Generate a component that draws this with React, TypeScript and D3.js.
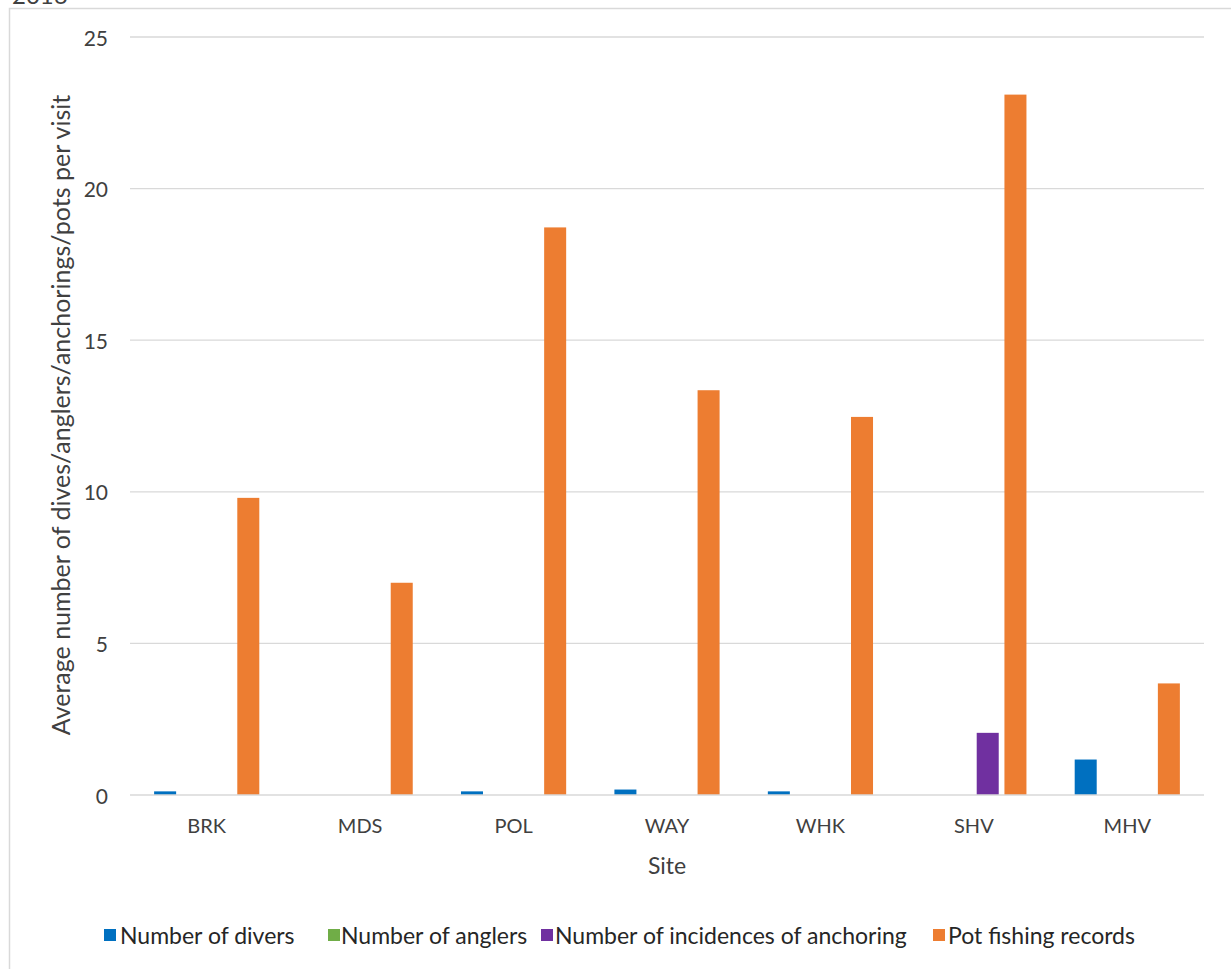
import React from "react";
import * as d3 from "d3";

const sites = ["BRK", "MDS", "POL", "WAY", "WHK", "SHV", "MHV"];
const seriesNames = [
  "Number of divers",
  "Number of anglers",
  "Number of incidences of anchoring",
  "Pot fishing records",
];
const seriesColors = ["#0070c0", "#70ad47", "#7030a0", "#ed7d31"];
const divers = [0.12, 0, 0.12, 0.18, 0.12, 0, 1.17];
const anglers = [0, 0, 0, 0, 0, 0, 0];
const anchoring = [0, 0, 0, 0, 0, 2.05, 0];
const potFishing = [9.8, 7.0, 18.72, 13.35, 12.47, 23.1, 3.68];
const yTicks = [0, 5, 10, 15, 20, 25];

const seriesValues = [divers, anglers, anchoring, potFishing];

const W = 1231;
const H = 969;
const left = 130;
const right = 1204;
const top = 37;
const bottom = 795;
const FONT = "Lato, 'Open Sans', sans-serif";

export default function App() {
  const x0 = d3.scaleBand<string>().domain(sites).range([left, right]).padding(0);
  const x1 = d3
    .scaleBand<number>()
    .domain([0, 1, 2, 3])
    .range([0, x0.bandwidth()])
    .paddingInner(0.206)
    .paddingOuter(0.87);
  const y = d3.scaleLinear().domain([0, 25]).range([bottom, top]);

  const legendItems = [
    { sq: 104, tx: 120 },
    { sq: 328, tx: 341 },
    { sq: 541, tx: 555 },
    { sq: 933, tx: 948 },
  ];

  return (
    <svg
      width={W}
      height={H}
      style={{ position: "absolute", left: 0, top: 0, display: "block", background: "#fff" }}
      fontFamily={FONT}
    >
      <rect x={0} y={0} width={W} height={H} fill="#fff" />
      <text x={12} y={4} fontSize={24} fill="#404040">2016</text>
      <rect x={9.5} y={8.5} width={W + 20} height={H + 20} fill="none" stroke="#d9d9d9" strokeWidth={1.5} />

      {yTicks.map((t) => (
        <g key={t}>
          {t !== 0 && (
            <line x1={left} x2={right} y1={y(t)} y2={y(t)} stroke="#d9d9d9" strokeWidth={1.3} />
          )}
          <text
            x={108}
            y={y(t)}
            textAnchor="end"
            dominantBaseline="central"
            fontSize={21}
            fill="#404040"
          >
            {t}
          </text>
        </g>
      ))}

      {sites.map((s, i) => (
        <g key={s} transform={`translate(${x0(s)},0)`}>
          {seriesValues.map((vals, k) =>
            vals[i] > 0 ? (
              <rect
                key={k}
                x={x1(k)}
                y={y(vals[i])}
                width={x1.bandwidth()}
                height={y(0) - y(vals[i])}
                fill={seriesColors[k]}
              />
            ) : null
          )}
          <text
            x={x0.bandwidth() / 2}
            y={833}
            textAnchor="middle"
            fontSize={20}
            fill="#404040"
          >
            {s}
          </text>
        </g>
      ))}

      <line x1={left} x2={right} y1={bottom} y2={bottom} stroke="#d9d9d9" strokeWidth={1.5} />

      <text x={(left + right) / 2} y={874} textAnchor="middle" fontSize={23} fill="#404040">
        Site
      </text>

      <text
        transform={`translate(70,${415}) rotate(-90)`}
        textAnchor="middle"
        fontSize={25}
        fill="#404040"
      >
        Average number of dives/anglers/anchorings/pots per visit
      </text>

      {seriesNames.map((n, k) => (
        <g key={n}>
          <rect x={legendItems[k].sq} y={929} width={12} height={12} fill={seriesColors[k]} />
          <text x={legendItems[k].tx} y={944} fontSize={23} fill="#262626">
            {n}
          </text>
        </g>
      ))}
    </svg>
  );
}
